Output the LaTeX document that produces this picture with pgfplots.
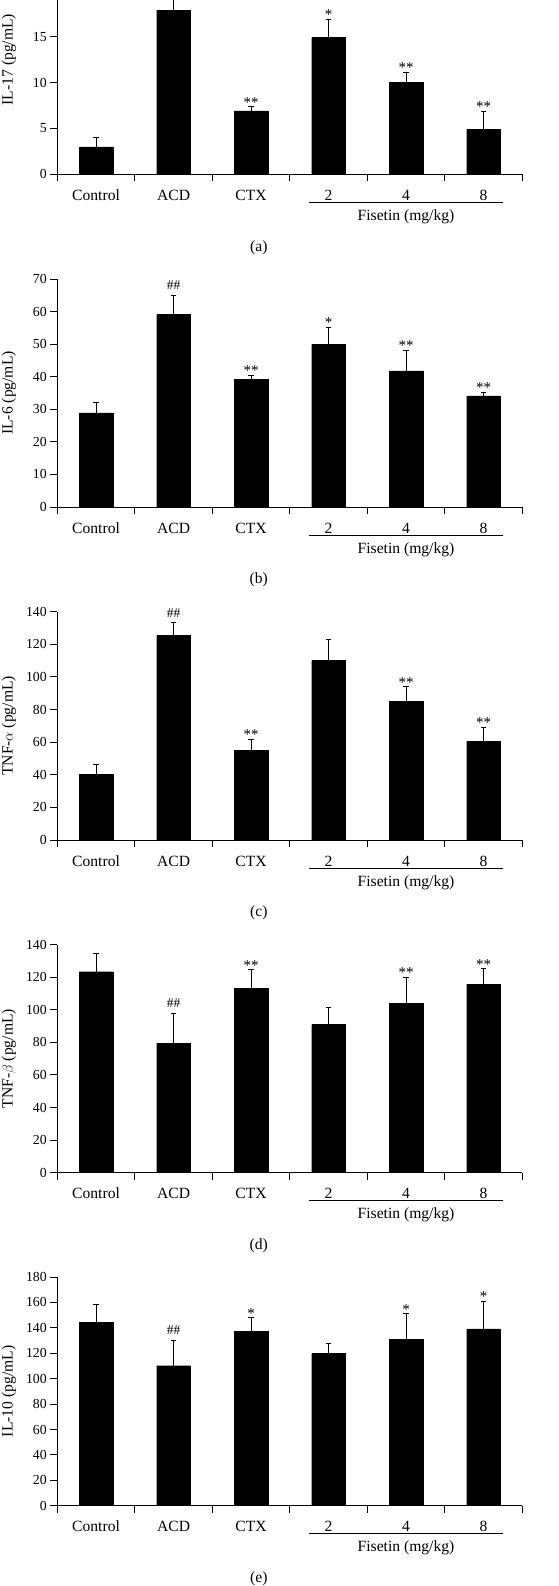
\documentclass[border=0pt]{standalone}
\usepackage{pgfplots}
\pgfplotsset{compat=1.18}
\usepackage{fontspec}
\setmainfont{Liberation Serif}
\newcommand\lab{\fontsize{15.6}{18}\selectfont}
\newcommand\tck{\fontsize{13.8}{16}\selectfont}
\newcommand\ann{\fontsize{15}{15}\selectfont}
\newcommand\deco[1]{%
  \draw[line width=1pt] ([yshift=-28pt]axis cs:2.75,0) -- ([yshift=-28pt]axis cs:5.25,0);
  \node[font=\lab, anchor=base] at ([yshift=-46pt]axis cs:4,0) {Fisetin (mg/kg)};
  \node[font=\lab] at ([yshift=-73pt]axis cs:2.1,0) {(#1)};
}
\pgfplotsset{
 panel/.style={
  scale only axis, width=465pt, xmin=-0.5, xmax=5.5, ymin=0,
  axis x line=bottom, axis y line=left,
  axis line style={-, line width=1pt, black},
  xtick={0,1,2,3,4,5}, xticklabels={Control,ACD,CTX,2,4,8},
  minor xtick={-0.5,0.5,1.5,2.5,3.5,4.5,5.5},
  tick align=outside, major tick length=7pt, minor tick length=7pt,
  every tick/.style={black, line width=1pt},
  major x tick style={draw=none},
  xticklabel style={font=\lab, anchor=base, yshift=-19pt},
  yticklabel style={font=\tck},
  /pgf/number format/assume math mode=true,
  every axis y label/.style={at={(axis description cs:0,0.5)}, xshift=-48.3pt, rotate=90, anchor=center, font=\lab},
  clip mode=individual,
  anchor=south west,
 },
 bars/.style={ybar, bar width=33.7pt, fill=black, draw=black,
  error bars/y dir=plus, error bars/y explicit,
  error bars/error bar style={line width=1pt, black},
  error bars/error mark options={rotate=90, mark size=2.6pt, line width=1pt, black}},
 stars/.style={draw=none, mark=none, nodes near coords, point meta=explicit symbolic,
  every node near coord/.append style={font=\ann, anchor=base, inner sep=0pt, text=black, yshift=-0.5pt}},
 hashes/.style={stars, every node near coord/.append style={font=\fontsize{13.5}{14}\selectfont, yshift=6.2pt}},
}
\begin{document}
\begin{tikzpicture}
% (a) IL-17
\begin{axis}[panel, at={(57.3pt,-174.3pt)}, height=174.3pt, ymax=19, ytick={0,5,10,15},
  ylabel={IL-17 (pg/mL)},
  every axis y label/.append style={at={(axis description cs:0,0.6579)}}]
\addplot[bars] coordinates {(0,3.0) +- (0,1.0) (1,17.9) +- (0,2.4) (2,6.9) +- (0,0.45) (3,14.9) +- (0,2.0) (4,10.0) +- (0,1.1) (5,4.9) +- (0,2.0)};
\addplot[stars] coordinates {(2,7.35) [**] (3,16.9) [*] (4,11.1) [**] (5,6.9) [**]};
\deco{a}
\end{axis}
% (b) IL-6
\begin{axis}[panel, at={(57.3pt,-507pt)}, height=228pt, ymax=70, ytick={0,10,...,70},
  ylabel={IL-6 (pg/mL)}]
\addplot[bars] coordinates {(0,28.9) +- (0,3.1) (1,59.1) +- (0,5.9) (2,39.2) +- (0,1.3) (3,49.9) +- (0,5.3) (4,41.8) +- (0,6.3) (5,34.1) +- (0,1.1)};
\addplot[stars] coordinates {(2,40.5) [**] (3,55.2) [*] (4,48.1) [**] (5,35.2) [**]};
\addplot[hashes] coordinates {(1,65.0) [\#\#]};
\deco{b}
\end{axis}
% (c) TNF-alpha
\begin{axis}[panel, at={(57.3pt,-840pt)}, height=228.3pt, ymax=140, ytick={0,20,...,140},
  ylabel={TNF-$\alpha$ (pg/mL)}]
\addplot[bars] coordinates {(0,40.3) +- (0,5.9) (1,125.3) +- (0,7.9) (2,54.8) +- (0,7.1) (3,110.0) +- (0,13.2) (4,85.0) +- (0,9.0) (5,60.7) +- (0,8.6)};
\addplot[stars] coordinates {(2,61.9) [**] (4,94.0) [**] (5,69.3) [**]};
\addplot[hashes] coordinates {(1,133.2) [\#\#]};
\deco{c}
\end{axis}
% (d) TNF-beta
\begin{axis}[panel, at={(57.3pt,-1172.7pt)}, height=228pt, ymax=140, ytick={0,20,...,140},
  ylabel={TNF-$\beta$ (pg/mL)}]
\addplot[bars] coordinates {(0,123.4) +- (0,11.3) (1,79.6) +- (0,18.3) (2,113.0) +- (0,11.6) (3,90.9) +- (0,10.4) (4,104.2) +- (0,15.8) (5,115.8) +- (0,9.5)};
\addplot[stars] coordinates {(2,124.6) [**] (4,120.0) [**] (5,125.3) [**]};
\addplot[hashes] coordinates {(1,97.9) [\#\#]};
\deco{d}
\end{axis}
% (e) IL-10
\begin{axis}[panel, at={(57.3pt,-1505.7pt)}, height=228.7pt, ymax=180, ytick={0,20,...,180},
  ylabel={IL-10 (pg/mL)}]
\addplot[bars] coordinates {(0,144.1) +- (0,14.4) (1,110.2) +- (0,20.0) (2,137.3) +- (0,10.7) (3,119.7) +- (0,8.1) (4,131.2) +- (0,19.9) (5,139.1) +- (0,21.8)};
\addplot[stars] coordinates {(2,148.0) [*] (4,151.1) [*] (5,160.9) [*]};
\addplot[hashes] coordinates {(1,130.2) [\#\#]};
\deco{e}
\end{axis}
\pgfresetboundingbox
\path[use as bounding box] (0,0) rectangle (558pt,-1586pt);
\end{tikzpicture}
\end{document}
